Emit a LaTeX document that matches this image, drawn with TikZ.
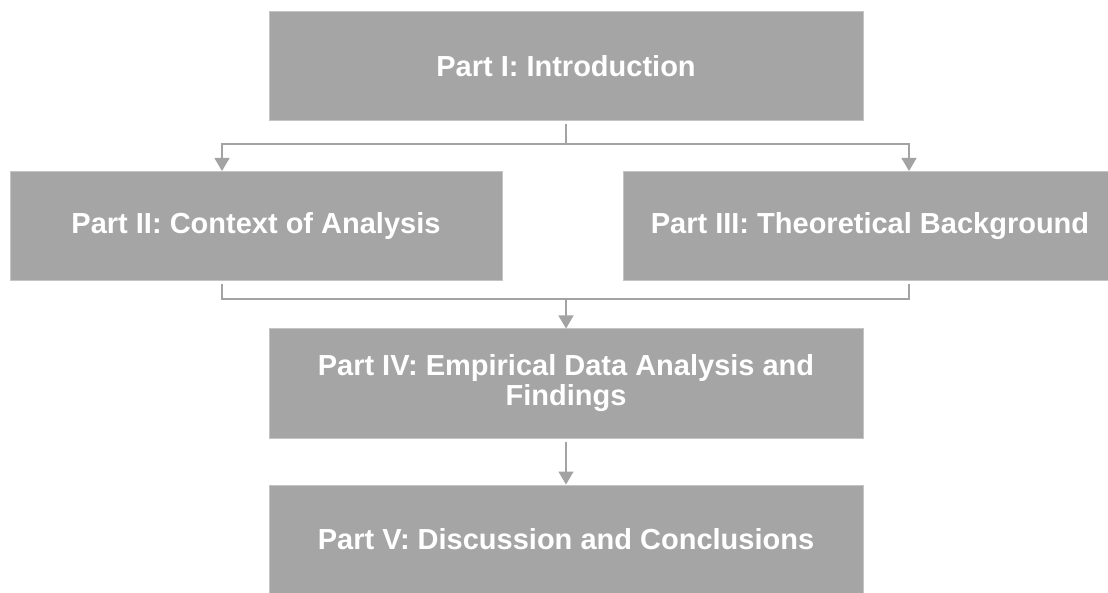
\documentclass[tikz,border=0pt]{standalone}
\usepackage{fontspec}
\setmainfont{Liberation Sans}
\usetikzlibrary{arrows.meta}

\definecolor{boxgray}{HTML}{A5A5A5}
\definecolor{edgegray}{HTML}{C4C4C4}
\definecolor{linegray}{HTML}{A3A3A3}

\tikzset{
    partbox/.style={fill=boxgray, draw=edgegray, line width=1pt, text=white,
        font=\bfseries\fontsize{29}{30}\selectfont, align=center,
        inner sep=0pt, minimum height=109pt},
    link/.style={draw=linegray, line width=1.2pt},
    conn/.style={link, -{Triangle[width=15pt,length=13pt]}}
}

\begin{document}
\begin{tikzpicture}[x=1pt, y=-1pt]

    % Cornice
    \clip (0,0) rectangle (1108,593);
    \fill[white] (0,0) rectangle (1108,593);

    % Blocchi
    \node[partbox, minimum width=594pt] (intro) at (566,66) {Part I: Introduction};
    \node[partbox, minimum width=492pt] (context) at (256,226.5) {Part II: Context of Analysis};
    \node[partbox, minimum width=494pt] (theory) at (870,226.5) {Part III: Theoretical Background};
    \node[partbox, minimum width=594pt] (empirical) at (566,383.5)
        {Part IV: Empirical Data Analysis and\\Findings};
    \node[partbox, minimum width=594pt] (discussion) at (566,539.5)
        {Part V: Discussion and Conclusions};

    % Punti di aggancio
    \coordinate (busA) at (566,144);
    \coordinate (busB) at (566,299);
    \coordinate (ctxin) at (222,171);
    \coordinate (thin) at (909,171);
    \coordinate (ctxout) at (222,284);
    \coordinate (thout) at (909,284);

    % Collegamenti dall'introduzione
    \draw[link, shorten <=3pt] (intro.south) -- (busA);
    \draw[conn] (busA) -| (ctxin);
    \draw[conn] (busA) -| (thin);

    % Collegamenti verso l'analisi
    \draw[link] (ctxout) |- (busB) -| (thout);
    \draw[conn] (busB) -- (empirical.north);

    % Ultimo passo
    \draw[conn, shorten <=3pt] (empirical.south) -- (discussion.north);

\end{tikzpicture}
\end{document}
